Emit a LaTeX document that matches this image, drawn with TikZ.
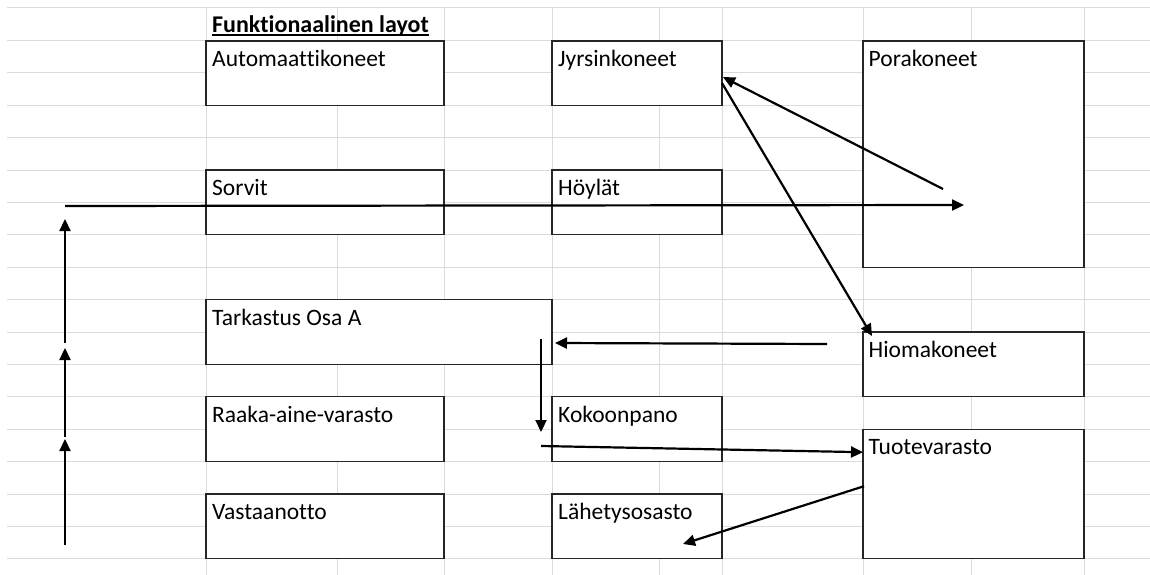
\documentclass[tikz,border=0pt]{standalone}
\usepackage{fontspec}
\setmainfont[Ligatures=NoCommon]{Carlito}
\usetikzlibrary{arrows.meta, calc}

\begin{document}
\begin{tikzpicture}[
    x=1pt,
    y=-1pt,
    >={Triangle[length=12pt, width=11pt]},
    gridline/.style={black!14, line width=1pt},
    box/.style={draw=black!85, line width=1.3pt, fill=white, inner sep=0pt, outer sep=0pt, anchor=north west},
    lbl/.style={anchor=base west, inner sep=0pt, font=\fontsize{23.5}{28}\selectfont},
    flow/.style={->, line width=2.2pt}
]
    \fill[white] (0,0) rectangle (1150,575);
    \useasboundingbox (0,0) rectangle (1150,575);
    % sheet grid
    \foreach \k in {0,...,17}
        \draw[gridline] (7,{8+32.4*\k}) -- (1150,{8+32.4*\k});
    \foreach \x in {206,337,444,552,659,722,863,971,1084}
        \draw[gridline] (\x,8) -- (\x,575);
    % title
    \node[lbl, font=\fontsize{24}{28}\selectfont\bfseries] (ttl) at (212,32.5) {Funktionaalinen layot};
    \draw[line width=1.5pt] ($(ttl.base west)+(0,2.5)$) -- ($(ttl.base east)+(0,2.5)$);
    % departments
    \node[box, minimum width=238, minimum height=64.2] (aut) at (206,41) {};
    \node[box, minimum width=170, minimum height=64.2] (jyr) at (552,41) {};
    \node[box, minimum width=221, minimum height=226.2] (por) at (863,41) {};
    \node[box, minimum width=238, minimum height=64.8] (sor) at (206,170) {};
    \node[box, minimum width=170, minimum height=64.8] (hoy) at (552,170) {};
    \node[box, minimum width=346, minimum height=64.8] (tar) at (206,299.6) {};
    \node[box, minimum width=221, minimum height=64.8] (hio) at (863,332) {};
    \node[box, minimum width=238, minimum height=64.8] (raa) at (206,396.8) {};
    \node[box, minimum width=170, minimum height=64.8] (kok) at (552,396.8) {};
    \node[box, minimum width=221, minimum height=129.6] (tuo) at (863,429.2) {};
    \node[box, minimum width=238, minimum height=64.8] (vas) at (206,494) {};
    \node[box, minimum width=170, minimum height=64.8] (lah) at (552,494) {};
    \node[lbl] (aut-t) at ($(aut.north west)+(6,25.4)$) {Automaattikoneet};
    \node[lbl] (jyr-t) at ($(jyr.north west)+(6,25.4)$) {Jyrsinkoneet};
    \node[lbl] (por-t) at ($(por.north west)+(5.5,25.4)$) {Porakoneet};
    \node[lbl] (sor-t) at ($(sor.north west)+(6,25.4)$) {Sorvit};
    \node[lbl] (hoy-t) at ($(hoy.north west)+(6,25.4)$) {Höylät};
    \node[lbl] (tar-t) at ($(tar.north west)+(6,25.4)$) {Tarkastus Osa A};
    \node[lbl] (hio-t) at ($(hio.north west)+(5.5,25.4)$) {Hiomakoneet};
    \node[lbl] (raa-t) at ($(raa.north west)+(6,25.4)$) {Raaka-aine-varasto};
    \node[lbl] (kok-t) at ($(kok.north west)+(6,25.4)$) {Kokoonpano};
    \node[lbl] (tuo-t) at ($(tuo.north west)+(5.5,25.4)$) {Tuotevarasto};
    \node[lbl] (vas-t) at ($(vas.north west)+(6,25.4)$) {Vastaanotto};
    \node[lbl] (lah-t) at ($(lah.north west)+(6,25.4)$) {Lähetysosasto};
    % material flow
    \coordinate (v0) at (65,545);
    \coordinate (v1) at (65,439);
    \coordinate (v2) at (65,348);
    \coordinate (v3) at (65,219);
    \coordinate (h0) at (65,206);
    \coordinate (h1) at (964,205);
    \coordinate (pj) at (943,189);
    \coordinate (ph) at (827,344);
    \coordinate (tk0) at (541,339);
    \coordinate (tk1) at (541,432);
    \coordinate (kt0) at (541,446);
    \coordinate (lh) at (683,544);
    \draw[flow] (v0) -- (v1);
    \draw[flow] ($(v1)+(0,-2)$) -- (v2);
    \draw[flow] ($(v2)+(0,-5)$) -- (v3);
    \draw[flow] (h0) -- (h1);
    \draw[flow] (pj) -- ($(jyr.east)+(1,4)$);
    \draw[flow] ($(jyr.east)+(0,10)$) -- ($(hio.north west)+(9,4)$);
    \draw[flow] (ph) -- ($(tar.east)+(3,11)$);
    \draw[flow] (tk0) -- (tk1);
    \draw[flow] (kt0) -- ($(tuo.north west)+(0,23)$);
    \draw[flow] ($(tuo.north west)+(1,57)$) -- (lh);
\end{tikzpicture}
\end{document}
